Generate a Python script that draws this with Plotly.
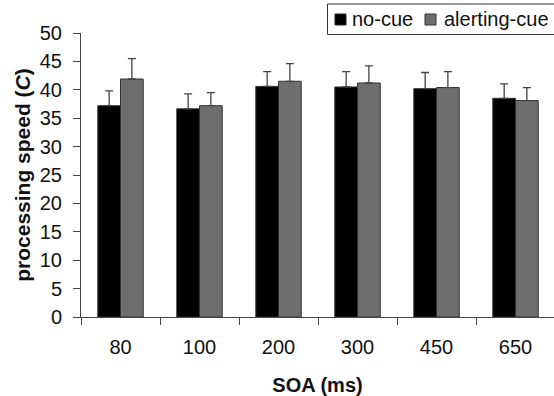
import plotly.graph_objects as go

# ---- data ----
soa_labels = ["80", "100", "200", "300", "450", "650"]
no_cue = [37.2, 36.65, 40.6, 40.5, 40.2, 38.5]
no_cue_err = [2.6, 2.65, 2.6, 2.7, 2.85, 2.55]
alerting_cue = [41.9, 37.2, 41.5, 41.2, 40.4, 38.1]
alerting_cue_err = [3.6, 2.3, 3.1, 3.0, 2.8, 2.3]
series_names = ["no-cue", "alerting-cue"]

W, H = 554, 396
ML, MR, MT, MB = 81, 0, 33, 79
PW, PH = W - ML - MR, H - MT - MB
FONT = "Liberation Sans, Arial, sans-serif"
BLACK = "#000000"
GREY = "#6e6e6e"
EDGE = "#333333"
AXC = "#444444"
TXT = "#111111"

def px_x(px):
    return (px - ML) / PW

def px_y(py):
    return (H - MB - py) / PH

fig = go.Figure()
fig.add_trace(go.Bar(
    x=soa_labels, y=no_cue, name=series_names[0],
    marker=dict(color=BLACK, line=dict(color=EDGE, width=1)),
    error_y=dict(type="data", array=no_cue_err, arrayminus=[0] * len(no_cue_err),
                 symmetric=False, color=AXC, thickness=1.3, width=4),
))
fig.add_trace(go.Bar(
    x=soa_labels, y=alerting_cue, name=series_names[1],
    marker=dict(color=GREY, line=dict(color=EDGE, width=1)),
    error_y=dict(type="data", array=alerting_cue_err, arrayminus=[0] * len(alerting_cue_err),
                 symmetric=False, color=AXC, thickness=1.3, width=4),
))

# manual legend (box partly cut off at the right edge, as in the reference)
shapes = [
    dict(type="rect", xref="paper", yref="paper",
         x0=px_x(327.5), x1=px_x(580), y0=px_y(34.5), y1=px_y(4),
         line=dict(color=EDGE, width=1), fillcolor="white", layer="above"),
    dict(type="rect", xref="paper", yref="paper",
         x0=px_x(335), x1=px_x(346), y0=px_y(25), y1=px_y(14),
         line=dict(color="#222222", width=1), fillcolor=BLACK, layer="above"),
    dict(type="rect", xref="paper", yref="paper",
         x0=px_x(425), x1=px_x(436), y0=px_y(25), y1=px_y(14),
         line=dict(color="#333333", width=1), fillcolor=GREY, layer="above"),
]
annotations = [
    dict(text=series_names[0], xref="paper", yref="paper", x=px_x(350), y=px_y(19.5),
         xanchor="left", yanchor="middle", showarrow=False,
         font=dict(family=FONT, size=20, color=TXT)),
    dict(text=series_names[1], xref="paper", yref="paper", x=px_x(442), y=px_y(19.5),
         xanchor="left", yanchor="middle", showarrow=False,
         font=dict(family=FONT, size=20, color=TXT)),
]

fig.update_layout(
    width=W, height=H,
    margin=dict(l=ML, r=MR, t=MT, b=MB, autoexpand=False),
    paper_bgcolor="white", plot_bgcolor="white",
    barmode="group", bargap=0.425, bargroupgap=0,
    showlegend=False,
    font=dict(family=FONT, size=20, color=TXT),
    shapes=shapes, annotations=annotations,
)
fig.update_xaxes(
    type="category", range=[-0.5, 5.487],
    showline=True, linecolor=AXC, linewidth=1,
    ticks="outside", ticklen=7, tickcolor=AXC, tickwidth=1,
    tickson="boundaries", showgrid=False, zeroline=False,
    tickfont=dict(family=FONT, size=20, color=TXT),
    ticklabelstandoff=12,
    title=dict(text="<b>SOA (ms)</b>", font=dict(family=FONT, size=20, color=TXT),
               standoff=20),
)
fig.update_yaxes(
    range=[0, 50], dtick=5, tick0=0,
    showline=True, linecolor=AXC, linewidth=1,
    ticks="outside", ticklen=7, tickcolor=AXC, tickwidth=1,
    showgrid=False, zeroline=False,
    tickfont=dict(family=FONT, size=20, color=TXT),
    ticklabelstandoff=7,
    title=dict(text="<b>processing speed (<i>C</i>)</b>",
               font=dict(family=FONT, size=21, color=TXT), standoff=3),
)

fig.write_html("out.html")
